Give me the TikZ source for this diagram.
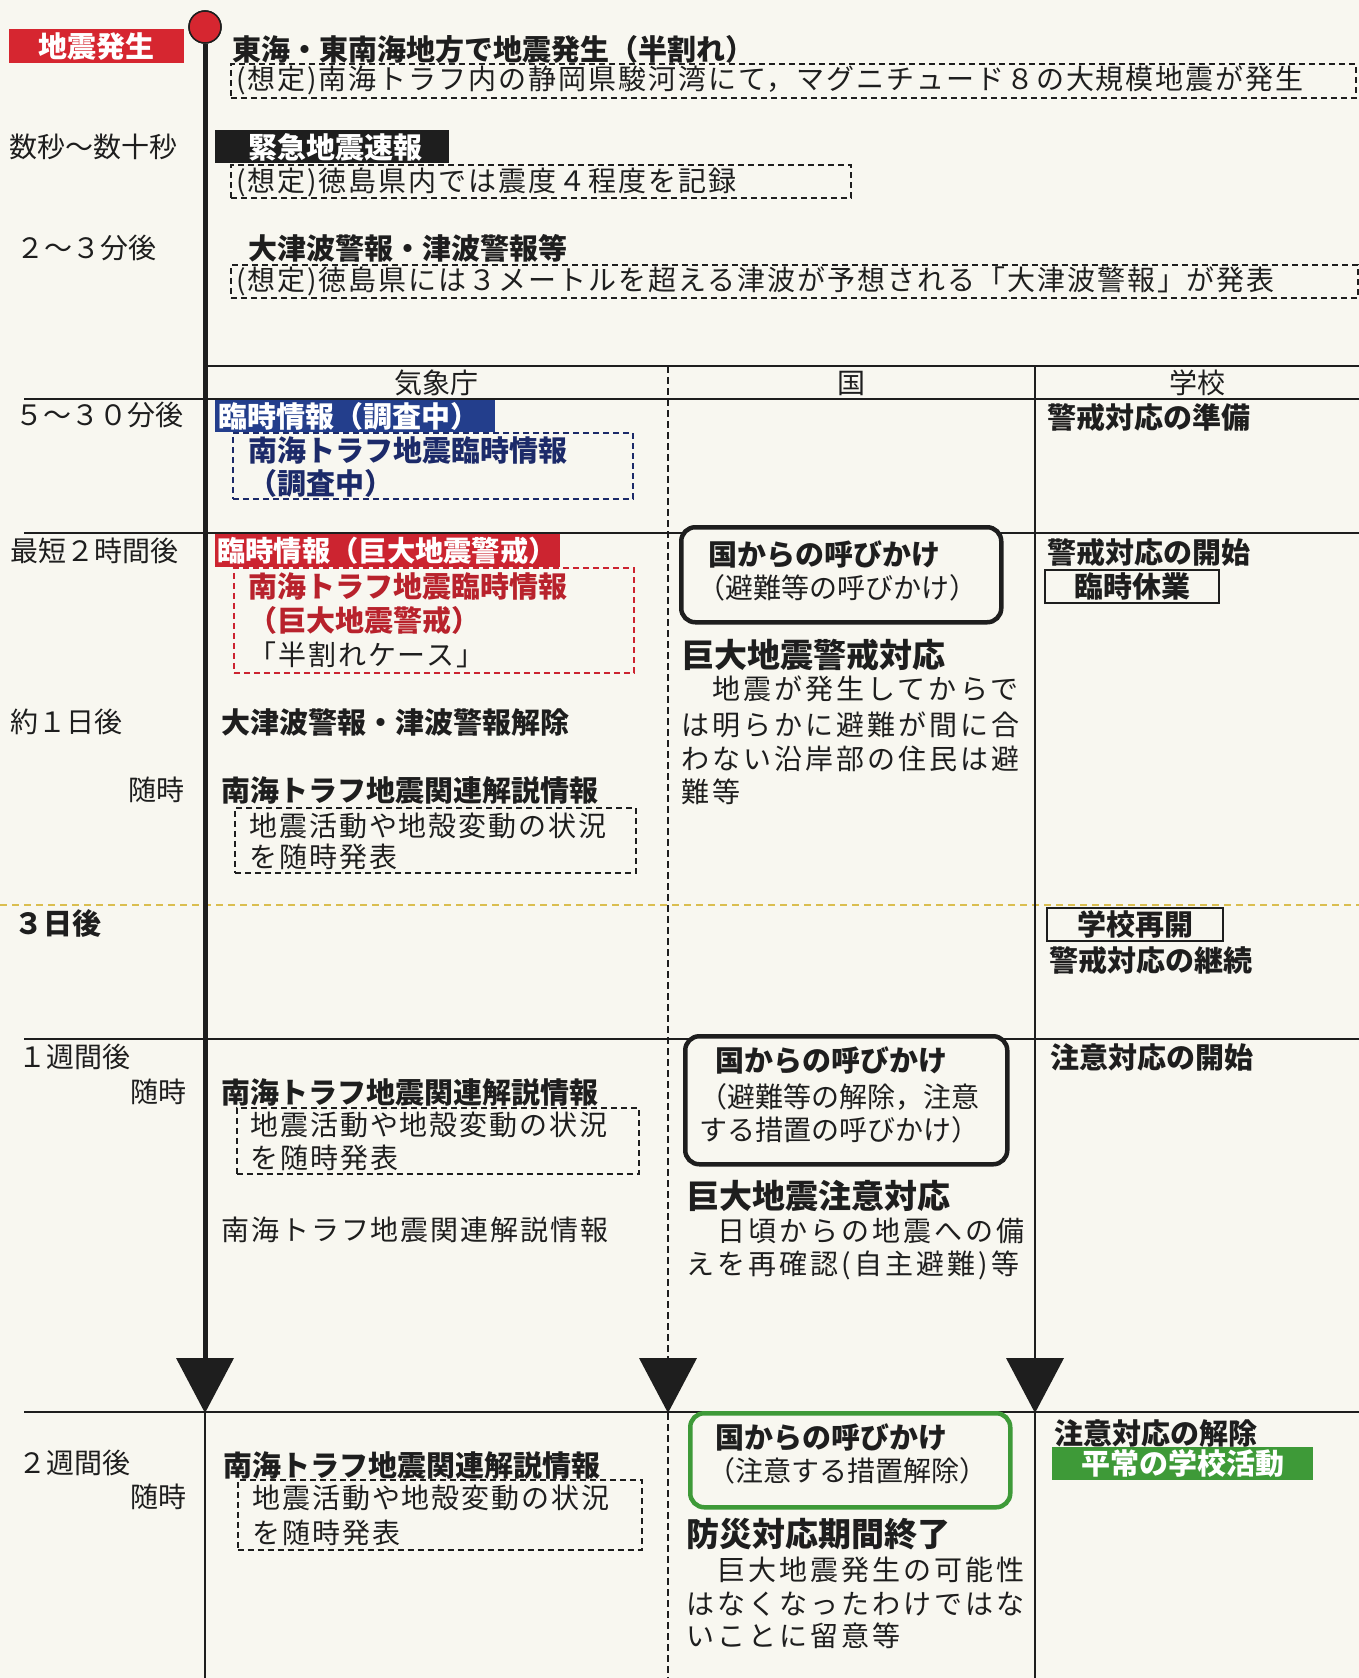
\documentclass[tikz,border=0pt]{standalone}
\usepackage{fontspec}
\setmainfont{Noto Sans CJK JP}
\newfontfamily\jpw{Noto Sans CJK JP}[LetterSpace=7]
\newfontfamily\jpp{Noto Sans CJK JP}[LetterSpace=11]
\definecolor{paper}{RGB}{248,247,240}
\definecolor{ink}{RGB}{30,30,30}
\definecolor{quakered}{RGB}{214,38,48}
\definecolor{alertred}{RGB}{204,36,48}
\definecolor{alerttext}{RGB}{184,34,44}
\definecolor{navybox}{RGB}{35,62,140}
\definecolor{navytext}{RGB}{28,42,105}
\definecolor{okgreen}{RGB}{62,154,56}
\definecolor{lineyellow}{RGB}{218,190,80}
\begin{document}
\begin{tikzpicture}[x=1pt,y=-1pt,
  tl/.style={anchor=west,inner sep=0pt,text=ink,font=\fontsize{28}{34}\selectfont},
  t/.style={anchor=west,inner sep=0pt,text=ink,font=\fontsize{28}{34}\selectfont\jpw},
  tb/.style={anchor=west,inner sep=0pt,text=ink,font=\fontsize{29}{34}\selectfont\bfseries},
  tp/.style={anchor=west,inner sep=0pt,text=ink,font=\fontsize{28}{34}\selectfont\jpp},
  tbig/.style={anchor=west,inner sep=0pt,text=ink,font=\fontsize{33}{38}\selectfont\bfseries},
  dbox/.style={draw=#1,dash pattern=on 6pt off 4pt,line width=1.6pt,inner sep=0pt,anchor=north west},
  dbox/.default=ink,
  solidbox/.style={fill=#1,draw=none,inner sep=0pt,anchor=north west},
  framebox/.style={draw=ink,fill=paper,line width=2pt,inner sep=0pt,anchor=north west},
  rbox/.style={draw=#1,fill=paper,line width=4.5pt,rounded corners=14pt,inner sep=0pt,anchor=north west},
  rowline/.style={draw=ink,line width=2pt},
  colline/.style={draw=ink,line width=2pt,dash pattern=on 7pt off 4pt},
]
\fill[paper] (0,0) rectangle (1359,1678);
\useasboundingbox (0,0) rectangle (1359,1678);

% ---------- grid lines ----------
\coordinate (h0a) at (205,366);  \coordinate (h0b) at (1359,366);
\coordinate (h1a) at (24,399);   \coordinate (h1b) at (1359,399);
\coordinate (h2a) at (24,533);   \coordinate (h2b) at (1359,533);
\coordinate (h3a) at (0,905);    \coordinate (h3b) at (1359,905);
\coordinate (h4a) at (24,1039);  \coordinate (h4b) at (1359,1039);
\coordinate (h5a) at (24,1412);  \coordinate (h5b) at (1359,1412);
\draw[rowline] (h0a) -- (h0b);
\draw[rowline] (h1a) -- (h1b);
\draw[rowline] (h2a) -- (h2b);
\draw[draw=lineyellow,line width=2pt,dash pattern=on 7pt off 5pt] (h3a) -- (h3b);
\draw[rowline] (h4a) -- (h4b);
\draw[rowline] (h5a) -- (h5b);

% column lines
\coordinate (ka) at (668,366);  \coordinate (kb) at (668,1360);
\coordinate (kc) at (668,1413); \coordinate (kd) at (668,1678);
\draw[colline] (ka) -- (kb);
\draw[colline] (kc) -- (kd);
\fill[ink] (639,1358) -- (697,1358) -- (kc) -- cycle;

\coordinate (sa) at (1035,366);  \coordinate (sb) at (1035,1360);
\coordinate (sc) at (1035,1413); \coordinate (sd) at (1035,1678);
\draw[rowline] (sa) -- (sb);
\draw[rowline] (sc) -- (sd);
\fill[ink] (1006,1358) -- (1064,1358) -- (sc) -- cycle;

% main timeline
\coordinate (ma) at (205,1360);
\coordinate (mc) at (205,1413); \coordinate (md) at (205,1678);
\node[circle,draw=ink,line width=1.5pt,fill=quakered,minimum size=32pt,inner sep=0pt] (c0) at (205,27) {};
\draw[ink,line width=5pt] (c0.south) -- (ma);
\draw[ink,line width=2.2pt] (mc) -- (md);
\fill[ink] (176,1358) -- (234,1358) -- (mc) -- cycle;
\node[circle,draw=ink,line width=1.5pt,fill=quakered,minimum size=32pt,inner sep=0pt] (c1) at (205,27) {};

% ---------- top section ----------
\node[solidbox=quakered,minimum width=175,minimum height=34] (b0) at (9,29) {};
\node[tb,anchor=center,text=white] (b0t) at (b0.center) {地震発生};
\node[tb] (title) at (232,49) {東海・東南海地方で地震発生（半割れ）};
\node[dbox,minimum width=1125,minimum height=34] (d1) at (230,63) {};
\node[t] (d1t) at (236,80) {(想定)南海トラフ内の静岡県駿河湾にて，マグニチュード８の大規模地震が発生};

\node[tl] (l1) at (9,147) {数秒〜数十秒};
\node[dbox,minimum width=620,minimum height=33] (d2) at (230,164) {};
\node[solidbox=ink,minimum width=234,minimum height=33] (bk) at (215,130) {};
\node[tb,text=white] (bkt) at (248,147) {緊急地震速報};
\node[t] (d2t) at (236,182) {(想定)徳島県内では震度４程度を記録};

\node[tl] (l2) at (16,248) {２〜３分後};
\node[tb] (tsu) at (248,248) {大津波警報・津波警報等};
\node[dbox,minimum width=1127,minimum height=33] (d3) at (230,264) {};
\node[t] (d3t) at (236,281) {(想定)徳島県には３メートルを超える津波が予想される「大津波警報」が発表};

% headers
\node[tl,anchor=center] (hk) at (436,383) {気象庁};
\node[tl,anchor=center] (hc) at (851,383) {国};
\node[tl,anchor=center] (hs) at (1197,383) {学校};

% ---------- 5-30 min ----------
\node[tl] (l3) at (15,415) {５〜３０分後};
\node[dbox=navytext,minimum width=400,minimum height=66] (dn) at (232,432) {};
\node[solidbox=navybox,minimum width=280,minimum height=32] (bb) at (215,400) {};
\node[tb,text=white] (bbt) at (218,416) {臨時情報（調査中）};
\node[tb,text=navytext] (n1) at (248,450) {南海トラフ地震臨時情報};
\node[tb,text=navytext] (n2) at (248,483) {（調査中）};
\node[tb] (s1) at (1047,417) {警戒対応の準備};

% ---------- 2 hours ----------
\node[tl] (l4) at (10,551) {最短２時間後};
\node[dbox=alertred,minimum width=400,minimum height=105] (dr) at (233,567) {};
\node[solidbox=alertred,minimum width=345,minimum height=33] (rb) at (215,534) {};
\node[tb,text=white,font=\fontsize{28.3}{34}\selectfont\bfseries] (rbt) at (217,551) {臨時情報（巨大地震警戒）};
\node[tb,text=alerttext] (r1) at (248,586) {南海トラフ地震臨時情報};
\node[tb,text=alerttext] (r2) at (248,620) {（巨大地震警戒）};
\node[t] (r3) at (248,655) {「半割れケース」};

\node[rbox=ink,minimum width=320,minimum height=95] (g1) at (679,525) {};
\node[tb] (g1a) at (708,555) {国からの呼びかけ};
\node[tl] (g1b) at (697,588) {（避難等の呼びかけ）};
\node[tbig] (g1h) at (681,655) {巨大地震警戒対応};
\node[tp] (g1p1) at (681,689) {　地震が発生してからで};
\node[tp] (g1p2) at (681,725) {は明らかに避難が間に合};
\node[tp] (g1p3) at (681,759) {わない沿岸部の住民は避};
\node[tp] (g1p4) at (681,792) {難等};

\node[tb] (s2) at (1047,553) {警戒対応の開始};
\node[framebox,minimum width=174,minimum height=33] (s2b) at (1044,569) {};
\node[tb,anchor=center] (s2bt) at (s2b.center) {臨時休業};

% ---------- 1 day ----------
\node[tl] (l5) at (10,722) {約１日後};
\node[tb] (k1) at (221,722) {大津波警報・津波警報解除};
\node[tl,anchor=east] (l6) at (185,790) {随時};
\node[tb] (k2) at (221,790) {南海トラフ地震関連解説情報};
\node[dbox,minimum width=401,minimum height=65] (dA) at (234,807) {};
\node[t] (dA1) at (249,826) {地震活動や地殻変動の状況};
\node[t] (dA2) at (249,857) {を随時発表};

% ---------- 3 days ----------
\node[tb] (l7) at (14,923) {３日後};
\node[framebox,minimum width=176,minimum height=33] (s3b) at (1046,907) {};
\node[tb,anchor=center] (s3bt) at (s3b.center) {学校再開};
\node[tb] (s3) at (1049,960) {警戒対応の継続};

% ---------- 1 week ----------
\node[tl] (l8) at (18,1057) {１週間後};
\node[tl,anchor=east] (l9) at (187,1092) {随時};
\node[tb] (k3) at (221,1092) {南海トラフ地震関連解説情報};
\node[dbox,minimum width=402,minimum height=66] (dB) at (236,1107) {};
\node[t] (dB1) at (250,1125) {地震活動や地殻変動の状況};
\node[t] (dB2) at (250,1158) {を随時発表};
\node[t] (k4) at (221,1230) {南海トラフ地震関連解説情報};

\node[rbox=ink,minimum width=322,minimum height=128] (g2) at (683,1034) {};
\node[tb] (g2a) at (715,1061) {国からの呼びかけ};
\node[tl] (g2b) at (699,1097) {（避難等の解除，注意};
\node[tl] (g2c) at (699,1130) {する措置の呼びかけ）};
\node[tbig] (g2h) at (686,1196) {巨大地震注意対応};
\node[tp] (g2p1) at (686,1231) {　日頃からの地震への備};
\node[tp] (g2p2) at (686,1265) {えを再確認(自主避難)等};

\node[tb] (s4) at (1050,1058) {注意対応の開始};

% ---------- 2 weeks ----------
\node[tl] (l10) at (18,1463) {２週間後};
\node[tl,anchor=east] (l11) at (187,1497) {随時};
\node[tb] (k5) at (223,1465) {南海トラフ地震関連解説情報};
\node[dbox,minimum width=404,minimum height=70] (dC) at (237,1479) {};
\node[t] (dC1) at (252,1498) {地震活動や地殻変動の状況};
\node[t] (dC2) at (252,1533) {を随時発表};

\node[rbox=okgreen,minimum width=320,minimum height=94] (g3) at (688,1411) {};
\node[tb] (g3a) at (715,1438) {国からの呼びかけ};
\node[tl] (g3b) at (707,1471) {（注意する措置解除）};
\node[tbig] (g3h) at (686,1534) {防災対応期間終了};
\node[tp] (g3p1) at (686,1570) {　巨大地震発生の可能性};
\node[tp] (g3p2) at (686,1604) {はなくなったわけではな};
\node[tp] (g3p3) at (686,1636) {いことに留意等};

\node[tb] (s5) at (1054,1433) {注意対応の解除};
\node[solidbox=okgreen,minimum width=261,minimum height=33] (s5b) at (1052,1447) {};
\node[tb,anchor=center,text=white] (s5bt) at (s5b.center) {平常の学校活動};
\end{tikzpicture}
\end{document}
